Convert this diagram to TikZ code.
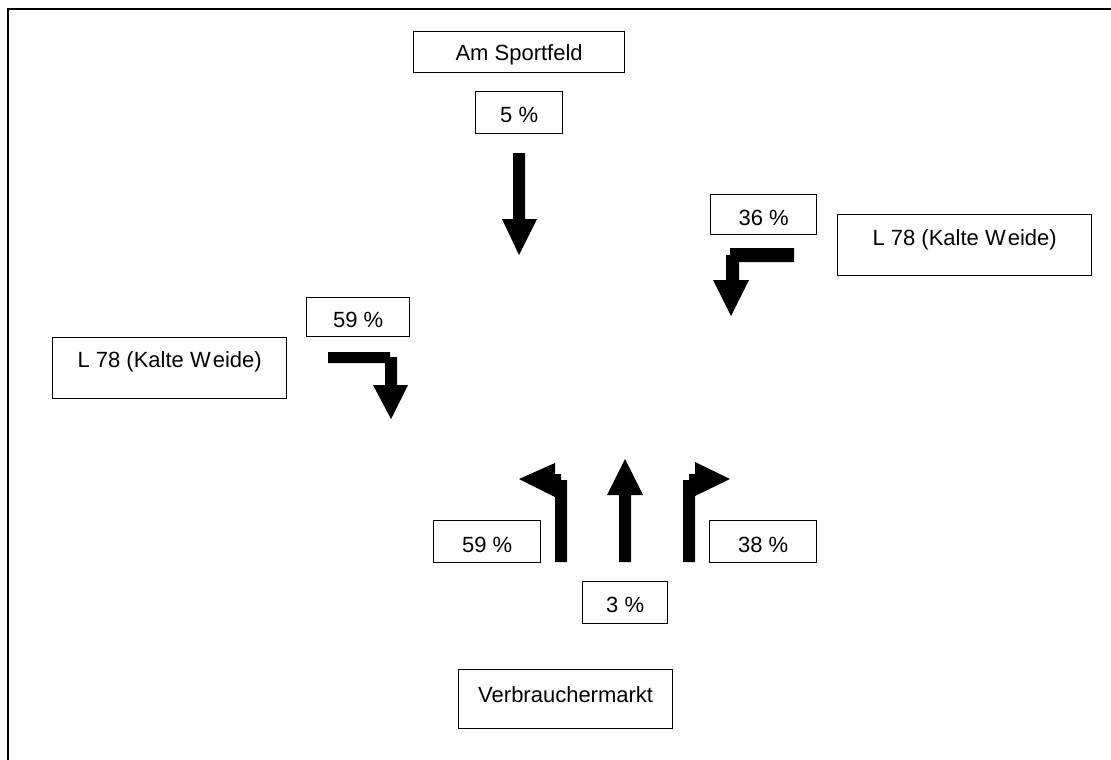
\documentclass[tikz,border=0pt]{standalone}
\usepackage{fontspec}
\setmainfont{Liberation Sans}
\begin{document}
\begin{tikzpicture}[x=1pt,y=-1pt,
  lbl/.style={draw=black,line width=1.3pt,inner sep=0pt,fill=white,
    font=\fontsize{22}{26}\selectfont,anchor=north west},
  arr/.style={fill=black,draw=none}]
\useasboundingbox (0,0) rectangle (1111,760);
% outer frame
\draw[line width=1.6pt] (8,760) -- (8,9) -- (1111,9);
% boxes: minimum width = x2-x1, text height = baseline-y1, text depth = y2-baseline
\node[lbl,minimum width=211pt,text height=28.5pt,text depth=12.5pt] (sport) at (413,31) {Am Sportfeld};
\node[lbl,minimum width=87pt,text height=30.5pt,text depth=11.5pt] (p5) at (475,91) {5 \%};
\node[lbl,minimum width=106pt,text height=30.5pt,text depth=9.5pt] (p36) at (710,194) {36 \%};
\node[lbl,minimum width=254pt,text height=30.5pt,text depth=30.5pt] (kwr) at (837,214) {L 78 (Kalte W\kern2pt eide)};
\node[lbl,minimum width=103pt,text height=29.5pt,text depth=9.5pt] (p59t) at (306,297) {59 \%};
\node[lbl,minimum width=234pt,text height=29.5pt,text depth=31.5pt] (kwl) at (52,337) {L 78 (Kalte W\kern2pt eide)};
\node[lbl,minimum width=107pt,text height=31.5pt,text depth=10.5pt] (p59b) at (433,520) {59 \%};
\node[lbl,minimum width=107pt,text height=31.5pt,text depth=10.5pt] (p38) at (709,520) {38 \%};
\node[lbl,minimum width=85pt,text height=30.5pt,text depth=11.5pt] (p3) at (582,581) {3 \%};
\node[lbl,minimum width=214pt,text height=32.5pt,text depth=26.5pt] (vm) at (458,669) {Verbrauchermarkt};
% arrows (filled shapes)
% from north, straight down
\fill[arr] (513,153) -- (525,153) -- (525,219) -- (537,219) -- (519,255) -- (502,219) -- (513,219) -- cycle;
% from east, turning left (down)
\fill[arr] (794,248) -- (730,248) -- (730,255) -- (726,255) -- (726,280) -- (713,280)
  -- (731,316) -- (749,280) -- (739,280) -- (739,262) -- (794,262) -- cycle;
% from west, turning right (down)
\fill[arr] (328,352) -- (390,352) -- (390,357) -- (397,357) -- (397,385) -- (408,385)
  -- (391,419) -- (373,385) -- (385,385) -- (385,363) -- (328,363) -- cycle;
% from south: left turn
\fill[arr] (567,562) -- (567,480) -- (561,480) -- (561,474) -- (555,474) -- (555,463)
  -- (519,479) -- (555,497) -- (555,562) -- cycle;
% from south: straight
\fill[arr] (619,562) -- (619,495) -- (607,495) -- (625,459) -- (643,495) -- (631,495) -- (631,562) -- cycle;
% from south: right turn
\fill[arr] (683,562) -- (683,480) -- (689,480) -- (689,474) -- (695,474) -- (695,462)
  -- (730,479) -- (695,496) -- (695,562) -- cycle;
\end{tikzpicture}
\end{document}
